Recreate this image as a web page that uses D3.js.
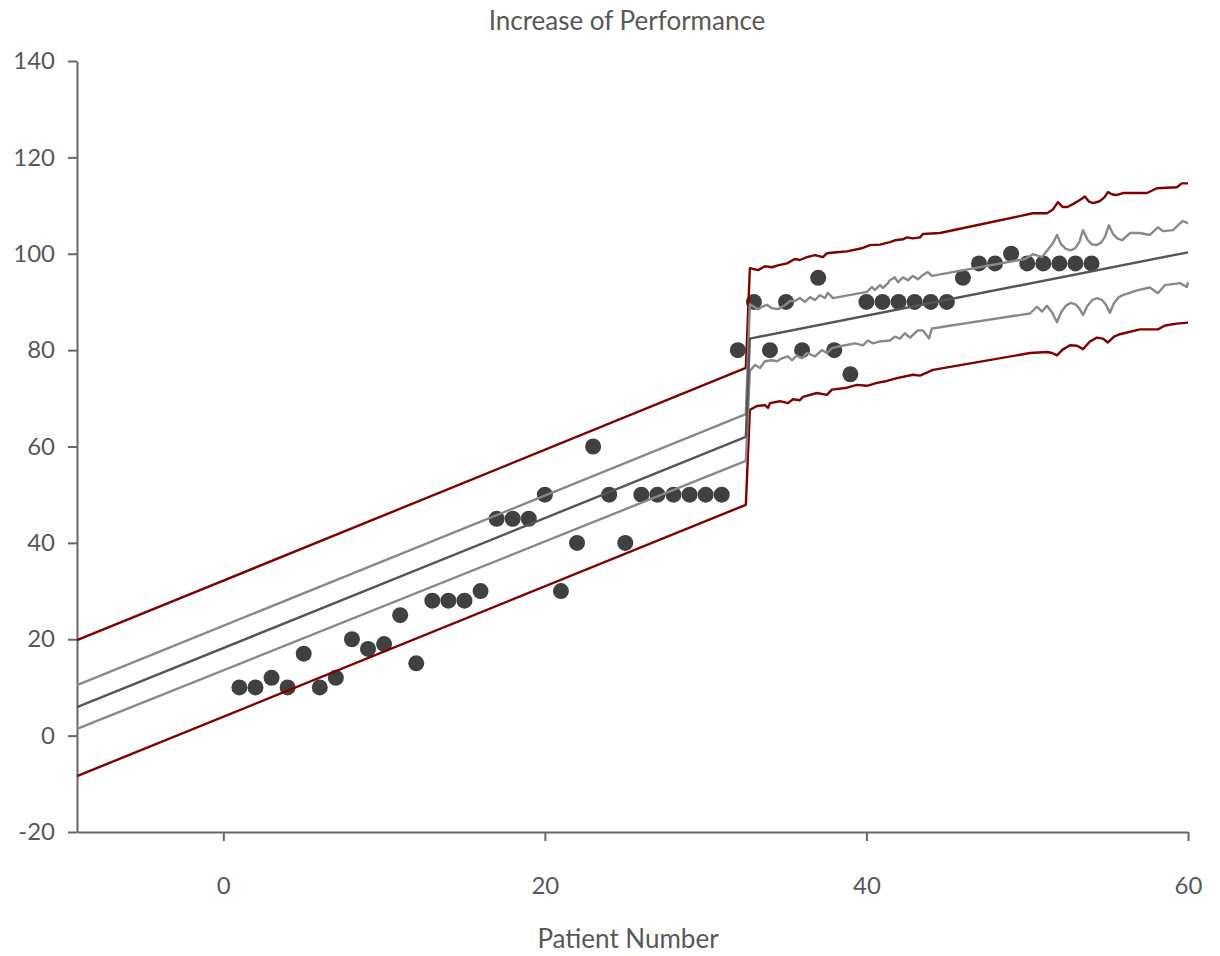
<!DOCTYPE html>
<html>
<head>
<meta charset="utf-8">
<script src="https://cdn.jsdelivr.net/npm/d3@7"></script>
<style>
  body { margin: 0; background: #fff; }
  text { font-family: Lato, "Open Sans", sans-serif; fill: #585858; }
</style>
</head>
<body>
<div id="chart"></div>
<script>
// patients and their score
const patientNumber = [1,2,3,4,5,6,7,8,9,10,11,12,13,14,15,16,17,18,19,20,21,22,23,24,25,26,27,
    28,29,30,31,32,33,34,35,36,37,38,39,40,41,42,43,44,45,46,47,48,49,50,51,52,53,54];
const performance = [10,10,12,10,17,10,12,20,18,19,25,15,28,28,28,30,45,45,45,50,30,40,60,50,40,50,50,
    50,50,50,50,80,90,80,90,80,95,80,75,90,90,90,90,90,90,95,98,98,100,98,98,98,98,98];

const xTicks = [0, 20, 40, 60];
const yTicks = [-20, 0, 20, 40, 60, 80, 100, 120, 140];

// fitted line and bands as [patient, value]
const fitLine = [[-9.1,5.9],[32.5,62.0],[32.75,82.4],[60,100.3]];

const upperConf = [[-9.1,10.5],[32.5,66.7],[32.75,89.5],[33.26,88.5],[33.57,89.1],[33.81,89.4],[34.12,88.7],
    [34.5,88.5],[34.93,89.3],[35.24,90.2],[35.55,90.2],[35.86,90.8],[36.18,90.0],[36.49,91.0],[36.8,90.4],
    [37.11,91.4],[37.42,90.8],[37.6,91.9],[37.92,90.8],[40.03,92.1],[40.34,93.1],[40.53,92.5],[40.84,93.5],
    [41.03,92.9],[41.34,93.9],[41.46,94.5],[41.77,95.1],[41.96,94.1],[42.27,95.1],[42.58,94.5],[42.89,95.4],
    [43.2,94.7],[43.51,95.6],[43.82,96.2],[44.07,95.4],[49.86,98.9],[50.36,99.9],[50.92,99.3],[51.29,100.9],
    [51.6,102.2],[51.85,103.9],[52.1,102.0],[52.4,101.0],[52.7,100.7],[53.0,101.2],[53.25,102.5],[53.47,104.9],
    [53.75,102.9],[54.0,102.0],[54.3,101.8],[54.6,102.3],[54.85,103.6],[55.08,105.9],[55.35,104.0],
    [55.6,103.2],[55.9,102.8],[56.39,104.3],[57.01,104.3],[57.63,103.9],[58.13,105.5],[58.44,104.7],
    [59.06,104.9],[59.68,106.8],[60,106.3]];

const lowerConf = [[-9.1,1.4],[32.5,57.0],[32.75,75.7],[33.07,76.9],[33.38,76.3],[33.69,77.7],[34.12,77.9],
    [34.44,77.7],[34.74,78.3],[35.12,78.7],[35.37,77.9],[35.68,78.9],[35.99,78.3],[36.3,79.4],[36.8,78.7],
    [37.23,80.0],[37.54,79.4],[37.85,80.4],[38.35,80.8],[39.29,81.4],[39.78,81.0],[40.09,82.0],[40.41,81.4],
    [40.84,81.8],[41.46,82.0],[41.77,82.8],[42.08,82.4],[42.39,83.5],[42.71,82.6],[43.2,84.1],[43.51,84.1],
    [43.89,82.4],[44.07,84.5],[50.17,87.6],[50.61,89.0],[50.92,88.0],[51.23,89.2],[51.55,87.8],[51.85,85.8],
    [52.1,87.8],[52.4,89.2],[52.7,89.8],[53.0,89.5],[53.25,88.6],[53.47,87.3],[53.75,89.2],[54.05,90.4],
    [54.35,90.8],[54.65,90.4],[54.9,89.4],[55.14,87.7],[55.4,89.8],[55.7,91.0],[55.95,91.4],[56.83,92.4],
    [57.63,93.0],[58.13,91.8],[58.57,93.5],[59.5,93.9],[59.93,93.1],[60,94.1]];

const upperPred = [[-9.1,19.8],[32.5,76.3],[32.75,97.0],[33.26,96.6],[33.69,97.4],[34.12,97.2],[34.5,97.6],
    [35.06,98.0],[35.55,98.9],[35.86,98.7],[36.3,99.3],[36.8,99.7],[37.29,99.3],[37.54,100.1],[38.16,100.3],
    [38.79,100.5],[39.78,101.2],[40.22,101.8],[40.84,101.9],[41.46,102.4],[41.77,102.8],[42.27,103.0],
    [42.52,103.4],[42.89,103.2],[43.33,103.4],[43.51,104.1],[44.57,104.3],[50.36,108.4],[51.23,108.4],
    [51.6,109.2],[51.91,110.7],[52.2,109.7],[52.5,109.7],[52.9,110.4],[53.3,111.2],[53.59,111.9],
    [53.85,110.8],[54.1,110.5],[54.5,110.9],[54.8,111.7],[55.02,112.8],[55.3,112.3],[55.6,112.2],
    [55.95,112.6],[57.45,112.6],[58.07,113.6],[59.31,113.8],[59.62,114.6],[60,114.6]];

const lowerPred = [[-9.1,-8.4],[32.5,47.9],[32.75,67.6],[33.19,68.4],[33.69,68.6],[33.88,68.0],[34.0,69.0],
    [34.62,69.4],[35.12,69.0],[35.43,69.8],[35.86,69.6],[36.05,70.3],[36.92,71.1],[37.54,70.7],[37.85,71.8],
    [38.79,72.2],[39.41,72.8],[40.03,72.6],[40.66,73.2],[41.28,73.6],[41.89,74.2],[42.89,74.9],[43.33,74.7],
    [44.14,75.9],[50.17,79.4],[51.23,79.6],[51.55,79.4],[51.85,78.9],[52.2,80.1],[52.66,81.0],[53.1,80.9],
    [53.47,80.2],[53.9,81.8],[54.33,82.6],[54.7,82.4],[55.02,81.6],[55.4,82.8],[55.76,83.3],[57.01,84.3],
    [58.13,84.3],[58.57,85.1],[59.31,85.5],[60,85.7]];

const size = {width: 1220, height: 956};
const margin = {top: 61, right: 32, bottom: 124, left: 77};
const width = size.width - margin.left - margin.right;
const height = size.height - margin.top - margin.bottom;

const svg = d3.select("#chart")
    .append("svg")
    .attr("width", size.width)
    .attr("height", size.height);

const g = svg.append("g")
    .attr("transform", "translate(" + margin.left + "," + margin.top + ")");

const xScale = d3.scaleLinear().domain([-9.1, 60]).range([0, width]);
const yScale = d3.scaleLinear().domain([-20, 140]).range([height, 0]);

// axes, plain hyphen for the minus sign
const xAxis = d3.axisBottom(xScale).tickValues(xTicks).tickSize(9).tickSizeOuter(0).tickPadding(36)
    .tickFormat((d) => String(d));
const yAxis = d3.axisLeft(yScale).tickValues(yTicks).tickSize(9).tickSizeOuter(0).tickPadding(13)
    .tickFormat((d) => String(d));

g.append("g")
    .attr("class", "x-axis")
    .attr("transform", "translate(0," + height + ")")
    .call(xAxis);
g.append("g")
    .attr("class", "y-axis")
    .call(yAxis);

g.selectAll(".x-axis, .y-axis").selectAll("path, line")
    .attr("stroke", "#666")
    .attr("stroke-width", 2);
g.selectAll(".x-axis, .y-axis").selectAll("text")
    .style("font-size", "24px")
    .attr("fill", "#585858");

// dots go under the lines
g.selectAll(".dot")
    .data(patientNumber)
    .join("circle")
    .attr("class", "dot")
    .attr("cx", (d) => xScale(d))
    .attr("cy", (d, i) => yScale(performance[i]))
    .attr("r", 8)
    .attr("fill", "#404040");

const line = d3.line()
    .x((d) => xScale(d[0]))
    .y((d) => yScale(d[1]));

const bands = [
    {data: upperPred, color: "#7f0000"},
    {data: lowerPred, color: "#7f0000"},
    {data: upperConf, color: "#888888"},
    {data: lowerConf, color: "#888888"},
    {data: fitLine, color: "#555555"}
];

g.selectAll(".band")
    .data(bands)
    .join("path")
    .attr("class", "band")
    .attr("d", (d) => line(d.data))
    .attr("fill", "none")
    .attr("stroke", (d) => d.color)
    .attr("stroke-width", 2.4)
    .attr("stroke-linejoin", "round");

// labels
svg.append("text")
    .attr("x", 627)
    .attr("y", 30)
    .style("text-anchor", "middle")
    .style("font-size", "26px")
    .text("Increase of Performance");

svg.append("text")
    .attr("x", 628)
    .attr("y", 948)
    .style("text-anchor", "middle")
    .style("font-size", "26px")
    .text("Patient Number");
</script>
</body>
</html>
